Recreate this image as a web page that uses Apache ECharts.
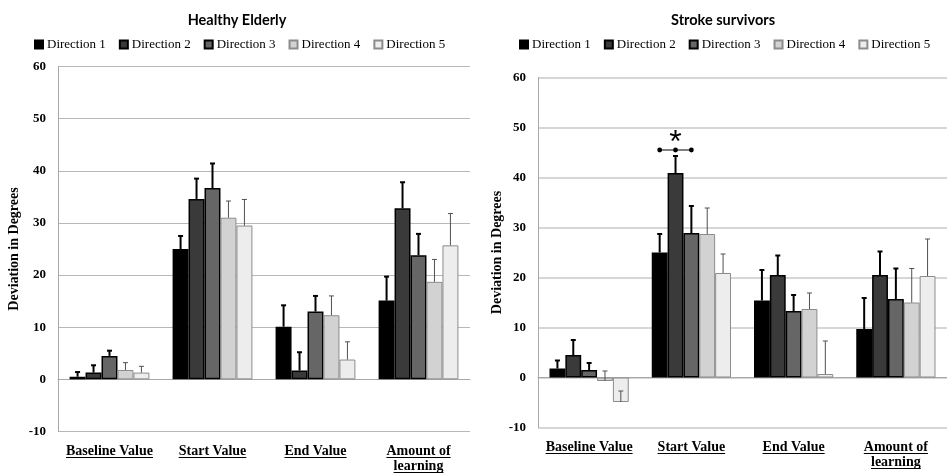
<!DOCTYPE html>
<html>
<head>
<meta charset="utf-8">
<script src="https://cdn.jsdelivr.net/npm/echarts@6/dist/echarts.min.js"></script>
<style>
  html, body { margin: 0; padding: 0; background: #ffffff; }
  #chart { width: 947px; height: 474px; }
</style>
</head>
<body>
<div id="chart"></div>
<script>
// Task phases on the x axis
const categories = ['Baseline Value', 'Start Value', 'End Value', 'Amount of\nlearning'];
const directions = ['Direction 1', 'Direction 2', 'Direction 3', 'Direction 4', 'Direction 5'];
const yTicks = [-10, 0, 10, 20, 30, 40, 50, 60];

// Healthy elderly: mean deviation (degrees) per direction
const elderlyD1 = [0.5, 25.0, 10.1, 15.1];
const elderlyD2 = [1.3, 34.6, 1.7, 32.8];
const elderlyD3 = [4.5, 36.7, 13.0, 23.8];
const elderlyD4 = [1.8, 31.0, 12.3, 18.7];
const elderlyD5 = [1.3, 29.5, 3.8, 25.7];
// Healthy elderly: error (upper whisker length)
const elderlyErrD1 = [0.9, 2.5, 4.1, 4.6];
const elderlyErrD2 = [1.4, 3.9, 3.5, 5.0];
const elderlyErrD3 = [1.0, 4.7, 3.0, 4.1];
const elderlyErrD4 = [1.4, 3.2, 3.7, 4.3];
const elderlyErrD5 = [1.2, 5.0, 3.4, 6.1];

// Stroke survivors: mean deviation (degrees) per direction
const strokeD1 = [1.8, 25.0, 15.4, 9.7];
const strokeD2 = [4.5, 40.9, 20.5, 20.5];
const strokeD3 = [1.5, 28.9, 13.3, 15.7];
const strokeD4 = [-0.7, 28.7, 13.7, 15.0];
const strokeD5 = [-4.9, 20.9, 0.7, 20.3];
// Stroke survivors: error (upper whisker length)
const strokeErrD1 = [1.6, 3.7, 6.1, 6.2];
const strokeErrD2 = [3.0, 3.4, 3.9, 4.7];
const strokeErrD3 = [1.4, 5.4, 3.2, 6.1];
const strokeErrD4 = [2.0, 5.2, 3.2, 6.8];
const strokeErrD5 = [2.2, 3.8, 6.6, 7.4];

// Significance marker: category index, first/last direction index, bracket level, star level
const sigCategory = [1];
const sigDirections = [0, 2];
const sigLevels = [45.5, 46.8];

const panelTitles = ['Healthy Elderly', 'Stroke survivors'];

const elderlyMeans = [elderlyD1, elderlyD2, elderlyD3, elderlyD4, elderlyD5];
const elderlyErrs = [elderlyErrD1, elderlyErrD2, elderlyErrD3, elderlyErrD4, elderlyErrD5];
const strokeMeans = [strokeD1, strokeD2, strokeD3, strokeD4, strokeD5];
const strokeErrs = [strokeErrD1, strokeErrD2, strokeErrD3, strokeErrD4, strokeErrD5];

const fills = ['#000000', '#3a3a3a', '#666666', '#d2d2d2', '#ededed'];
const borders = ['#000000', '#000000', '#000000', '#8c8c8c', '#8c8c8c'];
const borderWidths = [1.5, 1.5, 1.5, 1, 1];
const CAT_GAP = 0.225;
const SERIF = '"Liberation Serif", "DejaVu Serif", serif';
const LABEL_FONT_SIZE = 14;
const LABEL_MARGIN = 12.5;
const LABEL_LINE_HEIGHT = 15;

const chart = echarts.init(document.getElementById('chart'), null, { renderer: 'canvas' });

// x position of the centre of bar s inside category cat
function barCenterX(api, cat, s) {
  const band = api.size([1, 0])[0];
  const groupW = band * (1 - CAT_GAP);
  const barW = groupW / directions.length;
  return api.coord([cat, 0])[0] - groupW / 2 + barW * (s + 0.5);
}

function errorBarItem(params, api) {
  const cat = api.value(0);
  const s = api.value(1);
  const v = api.value(2);
  const top = api.value(3);
  const x = barCenterX(api, cat, s);
  const y0 = api.coord([cat, v])[1];
  const y1 = api.coord([cat, top])[1];
  const dark = s < 3;
  const style = { stroke: dark ? '#000000' : '#505050', lineWidth: dark ? 2 : 1 };
  const cap = 2.5;
  return {
    type: 'group',
    children: [
      { type: 'line', shape: { x1: x, y1: y0, x2: x, y2: y1 }, style: style },
      { type: 'line', shape: { x1: x - cap, y1: y1, x2: x + cap, y2: y1 }, style: style }
    ]
  };
}

function sigItem(params, api) {
  const cat = api.value(0);
  const s0 = api.value(1);
  const s1 = api.value(2);
  const y = api.coord([cat, api.value(3)])[1];
  const yStar = api.coord([cat, api.value(4)])[1];
  const xa = barCenterX(api, cat, s0);
  const xb = barCenterX(api, cat, s1);
  const children = [
    { type: 'line', shape: { x1: xa, y1: y, x2: xb, y2: y }, style: { stroke: '#000', lineWidth: 1 } }
  ];
  for (let s = s0; s <= s1; s++) {
    children.push({ type: 'circle', shape: { cx: barCenterX(api, cat, s), cy: y, r: 2.4 }, style: { fill: '#000' } });
  }
  children.push({
    type: 'text',
    style: {
      text: '*', x: (xa + xb) / 2, y: yStar, align: 'center', verticalAlign: 'middle',
      font: '32px "Liberation Sans", sans-serif', fill: '#000'
    }
  });
  return { type: 'group', children: children };
}

function errorData(means, errs) {
  const out = [];
  means.forEach((arr, s) => arr.forEach((v, c) => out.push([c, s, v, v + errs[s][c]])));
  return out;
}

const grids = [
  { left: 58, right: 477, top: 66.5, bottom: 39 },
  { left: 538, right: -8, top: 77.5, bottom: 46.5 }
];
const gridLineStyles = [
  { color: '#b8b8b8', width: 1 },
  { color: '#d6d6d6', width: 2 }
];

const series = [];
[elderlyMeans, strokeMeans].forEach((means, g) => {
  means.forEach((arr, s) => {
    series.push({
      type: 'bar', name: directions[s], xAxisIndex: g, yAxisIndex: g,
      data: arr, barGap: '0%', barCategoryGap: (CAT_GAP * 100) + '%',
      itemStyle: { color: fills[s], borderColor: borders[s], borderWidth: borderWidths[s] },
      emphasis: { disabled: true }, animation: false
    });
  });
  series.push({
    type: 'custom', name: 'errors' + g, xAxisIndex: g, yAxisIndex: g,
    renderItem: errorBarItem, data: errorData(means, g === 0 ? elderlyErrs : strokeErrs),
    encode: { x: 0, y: 3 }, z: 5, silent: true, animation: false
  });
});
series.push({
  type: 'custom', name: 'significance', xAxisIndex: 1, yAxisIndex: 1,
  renderItem: sigItem,
  data: [[sigCategory[0], sigDirections[0], sigDirections[1], sigLevels[0], sigLevels[1]]],
  encode: { x: 0, y: 3 }, z: 6, silent: true, animation: false
});

const option = {
  animation: false,
  backgroundColor: '#ffffff',
  title: panelTitles.map((t, g) => ({
    text: t, left: g === 0 ? 232 : 718, top: 8, textAlign: 'center',
    textStyle: { fontFamily: 'Lato, "Open Sans", sans-serif', fontWeight: 'bold', fontSize: 14.5, color: '#000' }
  })),
  legend: [0, 1].map(g => ({
    data: directions, left: g === 0 ? 29 : 514, top: 33,
    itemWidth: 8, itemHeight: 8, itemGap: 13, icon: 'rect',
    textStyle: { fontFamily: SERIF, fontSize: 13, color: '#000', padding: [0, 0, 0, -1] },
    selectedMode: false
  })),
  grid: grids,
  xAxis: [0, 1].map(g => ({
    type: 'category', gridIndex: g, data: categories,
    axisLine: { show: true, lineStyle: { color: '#a8a8a8', width: 1 } },
    axisTick: { show: false },
    axisLabel: {
      interval: 0, margin: LABEL_MARGIN, color: '#000', fontFamily: SERIF, fontWeight: 'bold',
      fontSize: LABEL_FONT_SIZE, lineHeight: LABEL_LINE_HEIGHT
    }
  })),
  yAxis: [0, 1].map(g => ({
    type: 'value', gridIndex: g, min: yTicks[0], max: yTicks[yTicks.length - 1], interval: 10,
    name: 'Deviation in Degrees', nameLocation: 'middle', nameGap: g === 0 ? 37 : 34,
    nameTextStyle: { fontFamily: SERIF, fontWeight: 'bold', fontSize: 14, color: '#000' },
    axisLine: { show: true, lineStyle: { color: '#a8a8a8', width: 1 } },
    axisTick: { show: false },
    axisLabel: { margin: 12, color: '#000', fontFamily: SERIF, fontWeight: 'bold', fontSize: 13 },
    splitLine: { show: true, lineStyle: gridLineStyles[g] }
  })),
  series: series
};

chart.setOption(option);

// Underline the category labels, as in the typeset figure
const ctx = document.createElement('canvas').getContext('2d');
ctx.font = 'bold ' + LABEL_FONT_SIZE + 'px ' + SERIF;
const underlines = [];
[0, 1].forEach(g => {
  const axisY = chart.convertToPixel({ yAxisIndex: g }, yTicks[0]);
  categories.forEach((c, i) => {
    const cx = chart.convertToPixel({ xAxisIndex: g }, i);
    c.split('\n').forEach((line, k) => {
      const w = ctx.measureText(line).width;
      const y = Math.round(axisY + LABEL_MARGIN + LABEL_LINE_HEIGHT * (k + 1) - 2.5) + 0.5;
      underlines.push({
        type: 'line', silent: true,
        shape: { x1: cx - w / 2, y1: y, x2: cx + w / 2, y2: y },
        style: { stroke: '#000', lineWidth: 1 }
      });
    });
  });
});
chart.setOption({ graphic: underlines });
</script>
</body>
</html>
